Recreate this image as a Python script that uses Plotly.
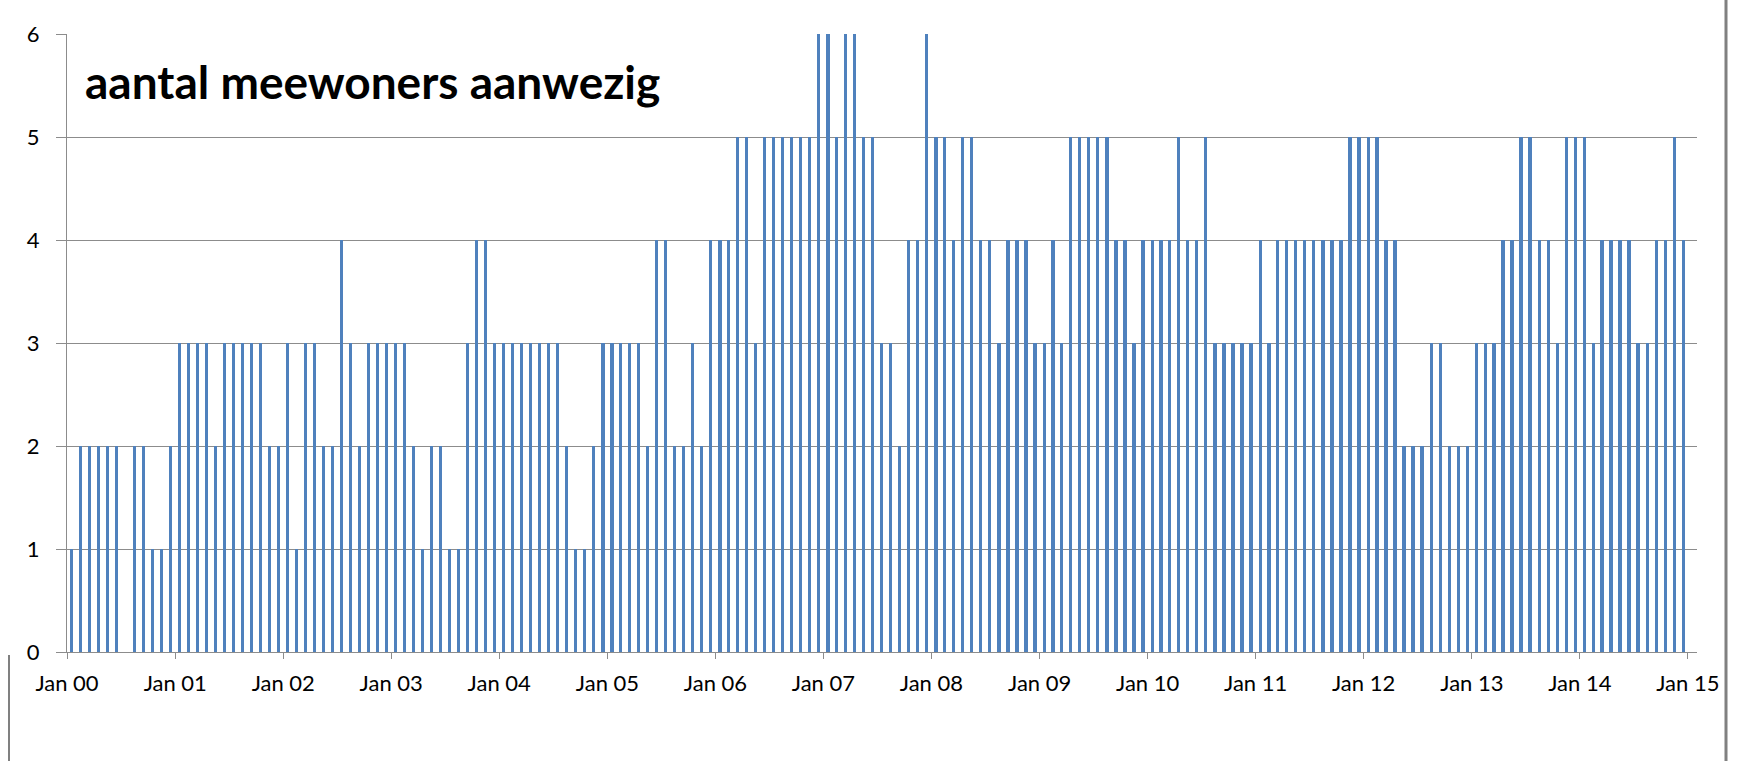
import pandas as pd
import plotly.graph_objects as go

# monthly counts, Jan 2000 .. Dec 2014 (0 = no bar)
year_2000 = [1, 2, 2, 2, 2, 2, 0, 2, 2, 1, 1, 2]
year_2001 = [3, 3, 3, 3, 2, 3, 3, 3, 3, 3, 2, 2]
year_2002 = [3, 1, 3, 3, 2, 2, 4, 3, 2, 3, 3, 3]
year_2003 = [3, 3, 2, 1, 2, 2, 1, 1, 3, 4, 4, 3]
year_2004 = [3, 3, 3, 3, 3, 3, 3, 2, 1, 1, 2, 3]
year_2005 = [3, 3, 3, 3, 2, 4, 4, 2, 2, 3, 2, 4]
year_2006 = [4, 4, 5, 5, 3, 5, 5, 5, 5, 5, 5, 6]
year_2007 = [6, 5, 6, 6, 5, 5, 3, 3, 2, 4, 4, 6]
year_2008 = [5, 5, 4, 5, 5, 4, 4, 3, 4, 4, 4, 3]
year_2009 = [3, 4, 3, 5, 5, 5, 5, 5, 4, 4, 3, 4]
year_2010 = [4, 4, 4, 5, 4, 4, 5, 3, 3, 3, 3, 3]
year_2011 = [4, 3, 4, 4, 4, 4, 4, 4, 4, 4, 5, 5]
year_2012 = [5, 5, 4, 4, 2, 2, 2, 3, 3, 2, 2, 2]
year_2013 = [3, 3, 3, 4, 4, 5, 5, 4, 4, 3, 5, 5]
year_2014 = [5, 3, 4, 4, 4, 4, 3, 3, 4, 4, 5, 4]

values = (year_2000 + year_2001 + year_2002 + year_2003 + year_2004 + year_2005 + year_2006 + year_2007
          + year_2008 + year_2009 + year_2010 + year_2011 + year_2012 + year_2013 + year_2014)
months = pd.date_range("2000-01-01", periods=len(values), freq="MS")
tick_dates = pd.date_range("2000-01-01", "2015-01-01", freq="12MS")
tick_labels = [d.strftime("%b %y") for d in tick_dates]

BAR = "#4F81BD"
GRID = "#8C8C8C"
FONT = "Lato, Open Sans, sans-serif"
TICK_FONT = dict(family=FONT, size=22, color="#000000")

fig = go.Figure()
fig.add_trace(go.Bar(x=months, y=values, xperiod="M1", xperiodalignment="middle", width=9.5e8,
                     marker=dict(color=BAR, line=dict(width=0)), showlegend=False))

W, H = 1741, 761
L, R, T, B = 67, 1697, 34, 652
px = lambda v: (v - L) / (R - L)
py = lambda v: 1 - (v - T) / (B - T)

fig.update_layout(
    width=W, height=H,
    margin=dict(l=L, r=W - R, t=T, b=H - B),
    paper_bgcolor="#FFFFFF", plot_bgcolor="#FFFFFF",
    bargap=0,
    xaxis=dict(type="date", range=[pd.Timestamp("2000-01-01"), pd.Timestamp("2015-02-01")],
               tickmode="array", tickvals=tick_dates, ticktext=tick_labels,
               showgrid=False, showline=True, linecolor=GRID, linewidth=1,
               ticks="outside", ticklen=6, tickcolor=GRID, tickfont=TICK_FONT,
               ticklabelstandoff=6, zeroline=False),
    yaxis=dict(range=[0, 6], dtick=1, showgrid=True, gridcolor=GRID, gridwidth=1,
               showline=True, linecolor=GRID, linewidth=1,
               ticks="outside", ticklen=10, tickcolor=GRID, tickfont=TICK_FONT,
               ticklabelstandoff=12, zeroline=False),
    annotations=[dict(text="<b>aantal meewoners aanwezig</b>", xref="paper", yref="paper",
                      x=px(83), y=py(81), xanchor="left", yanchor="middle",
                      showarrow=False, font=dict(family=FONT, size=46, color="#000000"))],
    shapes=[dict(type="line", xref="paper", yref="paper", x0=px(1726), x1=px(1726),
                 y0=py(H), y1=py(0), line=dict(color="#808080", width=3)),
            dict(type="line", xref="paper", yref="paper", x0=px(9), x1=px(9),
                 y0=py(H), y1=py(655), line=dict(color="#808080", width=2))],
)

fig.write_html("out.html", config={"displayModeBar": False},
               post_script="document.body.style.margin='0';document.body.style.overflow='hidden';")
